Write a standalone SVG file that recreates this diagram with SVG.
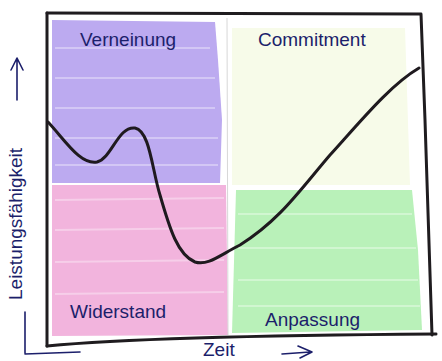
<svg xmlns="http://www.w3.org/2000/svg" width="442" height="361" viewBox="0 0 442 361">
  <defs>
    <style>
      .lbl { font-family: "Liberation Sans", "DejaVu Sans", sans-serif; fill: #1c1f6b; font-size: 19px; }
      .frame { fill: none; stroke: #1f1c1f; stroke-width: 3; stroke-linecap: round; stroke-linejoin: round; }
      .ink { fill: none; stroke: #1c1f6b; stroke-width: 1.6; stroke-linecap: round; stroke-linejoin: round; }
      .streak { stroke: #ffffff; stroke-opacity: 0.35; stroke-width: 2; }
    </style>
  </defs>
  <rect x="0" y="0" width="442" height="361" fill="#ffffff"/>

  <g id="quadrant-verneinung">
    <path d="M52 20 L215 22 L218 60 L222 120 L220 183 L52 183 Z" fill="#bcaaf0"/>
    <g class="streak">
      <line x1="55" y1="48" x2="210" y2="48"/>
      <line x1="55" y1="78" x2="215" y2="78"/>
      <line x1="55" y1="108" x2="215" y2="108"/>
      <line x1="55" y1="138" x2="218" y2="138"/>
      <line x1="55" y1="165" x2="218" y2="165"/>
    </g>
    <text class="lbl" x="80" y="46">Verneinung</text>
  </g>

  <g id="quadrant-commitment">
    <path d="M232 28 L405 28 L410 185 L232 185 Z" fill="#f7fbe9"/>
    <text class="lbl" x="258" y="46">Commitment</text>
  </g>

  <g id="quadrant-widerstand">
    <path d="M52 185 L226 185 L228 335 L52 336 Z" fill="#f2b4dd"/>
    <g class="streak">
      <line x1="55" y1="200" x2="224" y2="198"/>
      <line x1="55" y1="230" x2="224" y2="228"/>
      <line x1="55" y1="262" x2="224" y2="260"/>
      <line x1="55" y1="294" x2="224" y2="292"/>
    </g>
    <text class="lbl" x="70" y="318">Widerstand</text>
  </g>

  <g id="quadrant-anpassung">
    <path d="M236 190 L412 190 L418 250 L422 330 L232 333 Z" fill="#b9f1b9"/>
    <g class="streak">
      <line x1="238" y1="214" x2="412" y2="214"/>
      <line x1="238" y1="248" x2="416" y2="248"/>
      <line x1="238" y1="280" x2="418" y2="280"/>
      <line x1="238" y1="306" x2="420" y2="306"/>
    </g>
    <text class="lbl" x="265" y="326">Anpassung</text>
  </g>

  <g id="frame">
    <line x1="227" y1="18" x2="228" y2="335" stroke="#d8d8d8" stroke-width="1"/>
    <path class="frame" d="M47 13 L420 14"/>
    <path class="frame" d="M47 13 L47 346"/>
    <path class="frame" d="M47 346 Q150 336 436 334"/>
    <path class="frame" d="M421 14 L425 120 L432 335"/>
  </g>

  <g id="connectors">
    <path d="M48 122 C65 140 80 165 97 162 C112 158 118 126 135 128 C150 131 152 170 160 195 C170 230 178 255 195 262 C208 266 220 255 240 245 C280 220 300 190 330 155 C360 122 390 85 419 68" fill="none" stroke="#1f1a1f" stroke-width="3" stroke-linecap="round"/>
  </g>

  <g id="axis-y">
    <text class="lbl" font-size="17" transform="translate(22 300) rotate(-90)">Leistungsfähigkeit</text>
    <path class="ink" d="M17 100 L17 60 M11 70 L17 58 L23 70"/>
    <path class="ink" d="M25 312 L25 353 M25 354 L80 352"/>
  </g>

  <g id="axis-x">
    <text class="lbl" font-size="16" x="203" y="356">Zeit</text>
    <path class="ink" d="M282 354 L310 352 M298 346 L312 352 L300 358"/>
  </g>
</svg>
